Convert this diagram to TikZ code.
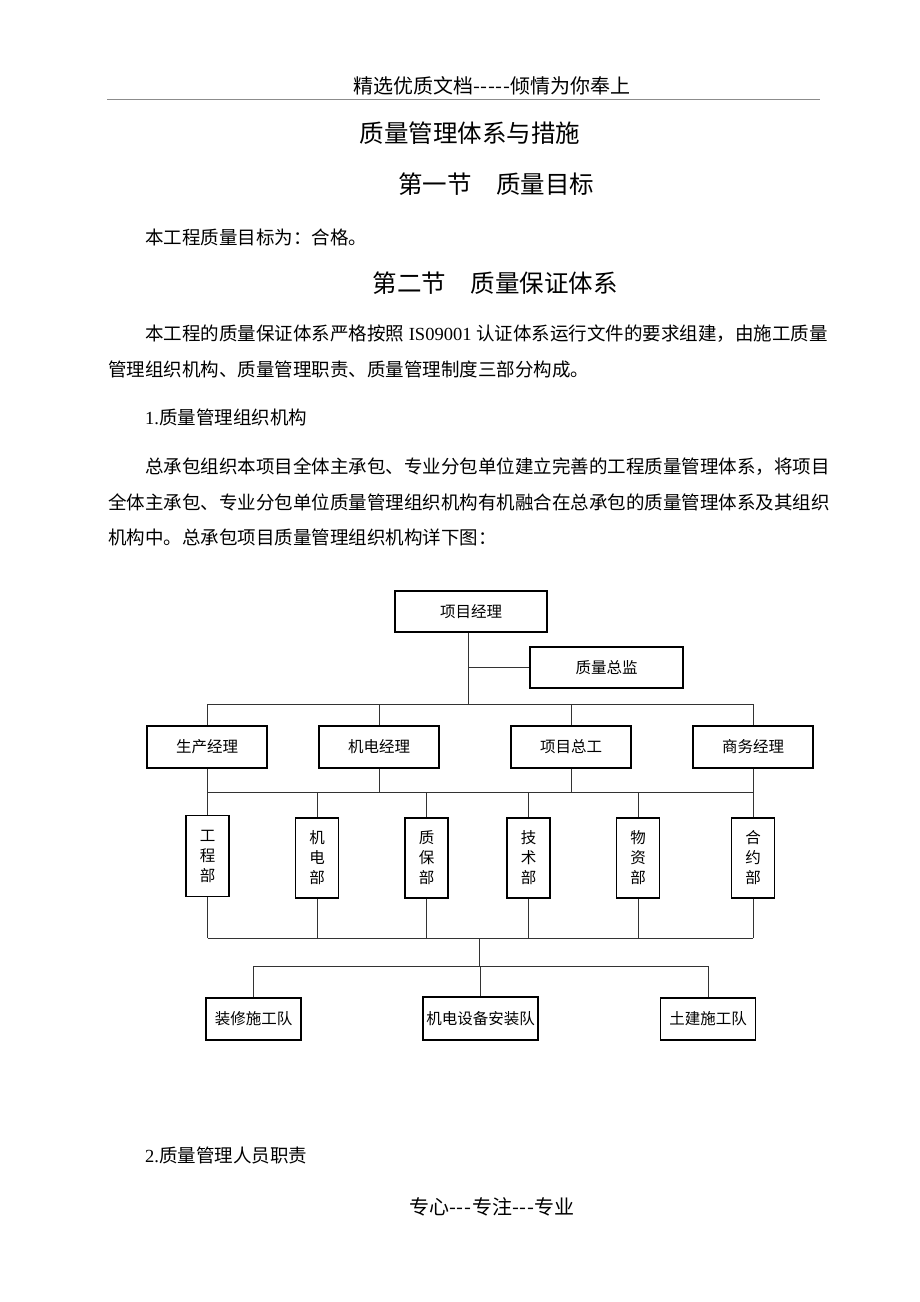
\documentclass[tikz,border=0pt]{standalone}
\usepackage{fontspec}
\setmainfont{Noto Sans CJK SC}
\newfontfamily\lat{Liberation Serif}
\newcommand{\hy}{-\kern0.6pt}
\begin{document}
\begin{tikzpicture}[x=1pt,y=-1pt,
  txt/.style={inner sep=0pt, text=black},
  body/.style={txt, anchor=west, font=\fontsize{18.5}{18.5}\selectfont},
  head/.style={txt, font=\fontsize{24.5}{24.5}\selectfont},
  box/.style={draw=black, line width=1.2pt, fill=white, inner sep=0pt, font=\fontsize{15.5}{15.5}\selectfont, align=center},
  vbox/.style={box, minimum width=43pt, minimum height=80pt, font=\fontsize{15.5}{20}\selectfont},
  conn/.style={draw=black!80, line width=0.9pt}
]
\fill[white] (0,0) rectangle (920,1302);
\useasboundingbox (0,0) rectangle (920,1302);

% header and footer
\node[txt, font=\fontsize{20}{20}\selectfont] (hdr) at (492,86) {精选优质文档\hy\hy\hy\hy\hy 倾情为你奉上};
\coordinate (rl) at (107,99);
\coordinate (rr) at (820,99);
\draw[black!45, line width=0.8pt] (rl) -- (rr);
\node[txt, font=\fontsize{20}{20}\selectfont] (ftr) at (492,1207) {专心\hy\hy\hy 专注\hy\hy\hy 专业};

% texts
\node[head] (title) at (470,133) {质量管理体系与措施};
\node[head] (sec1) at (496,184) {第一节　质量目标};
\node[body] (t1) at (145,237) {本工程质量目标为：合格。};
\node[head] (sec2) at (495,283) {第二节　质量保证体系};
\node[body] (p1a) at (145,334) {本工程的质量保证体系严格按照{\lat\ IS09001 }认证体系运行文件的要求组建，由施工质量};
\node[body] (p1b) at (108,369) {管理组织机构、质量管理职责、质量管理制度三部分构成。};
\node[body] (s1) at (145,417) {{\lat 1.}质量管理组织机构};
\node[body] (p2a) at (145,467) {总承包组织本项目全体主承包、专业分包单位建立完善的工程质量管理体系，将项目};
\node[body] (p2b) at (108,502) {全体主承包、专业分包单位质量管理组织机构有机融合在总承包的质量管理体系及其组织};
\node[body] (p2c) at (108,537) {机构中。总承包项目质量管理组织机构详下图：};
\node[body] (s2) at (145,1155) {{\lat 2.}质量管理人员职责};

% chart nodes
\node[box, minimum width=152pt, minimum height=41pt] (pm) at (471,611.5) {项目经理};
\node[box, minimum width=153pt, minimum height=41pt] (qc) at (606.5,667.5) {质量总监};

\node[box, minimum width=120pt, minimum height=42pt] (m1) at (207,747) {生产经理};
\node[box, minimum width=120pt, minimum height=42pt] (m2) at (379,747) {机电经理};
\node[box, minimum width=120pt, minimum height=42pt] (m3) at (571,747) {项目总工};
\node[box, minimum width=120pt, minimum height=42pt] (m4) at (753,747) {商务经理};

\node[vbox, minimum height=81pt] (d1) at (207.5,856) {工\\程\\部};
\node[vbox] (d2) at (317,858) {机\\电\\部};
\node[vbox] (d3) at (426.5,858) {质\\保\\部};
\node[vbox] (d4) at (528.5,858) {技\\术\\部};
\node[vbox] (d5) at (638,858) {物\\资\\部};
\node[vbox] (d6) at (753,858) {合\\约\\部};

\node[box, minimum width=95pt, minimum height=42pt] (w1) at (253.5,1019) {装修施工队};
\node[box, minimum width=115pt, minimum height=43pt] (w2) at (480.5,1018.5) {机电设备安装队};
\node[box, minimum width=95pt, minimum height=42pt] (w3) at (708,1019) {土建施工队};

% junction coordinates
\coordinate (j1) at (468,704);
\coordinate (j2) at (468,792);
\coordinate (j3) at (479,938);
\coordinate (j4) at (479,966);

% connectors
\draw[conn] (pm.south -| j1) -- (j1);
\draw[conn] (qc.west -| j1) -- (qc.west);
\draw[conn] (m1.north |- j1) -- (m4.north |- j1);
\foreach \n in {m1,m2,m3,m4}{\draw[conn] (\n.north |- j1) -- (\n.north);}
\foreach \n in {m1,m2,m3,m4}{\draw[conn] (\n.south) -- (\n.south |- j2);}
\draw[conn] (m1.south |- j2) -- (m4.south |- j2);
\foreach \n in {d1,d2,d3,d4,d5,d6}{\draw[conn] (\n.north |- j2) -- (\n.north);}
\foreach \n in {d1,d2,d3,d4,d5,d6}{\draw[conn] (\n.south) -- (\n.south |- j3);}
\draw[conn] (d1.south |- j3) -- (d6.south |- j3);
\draw[conn] (j3) -- (j4);
\draw[conn] (w1.north |- j4) -- (w3.north |- j4);
\foreach \n in {w1,w2,w3}{\draw[conn] (\n.north |- j4) -- (\n.north);}
\end{tikzpicture}
\end{document}
